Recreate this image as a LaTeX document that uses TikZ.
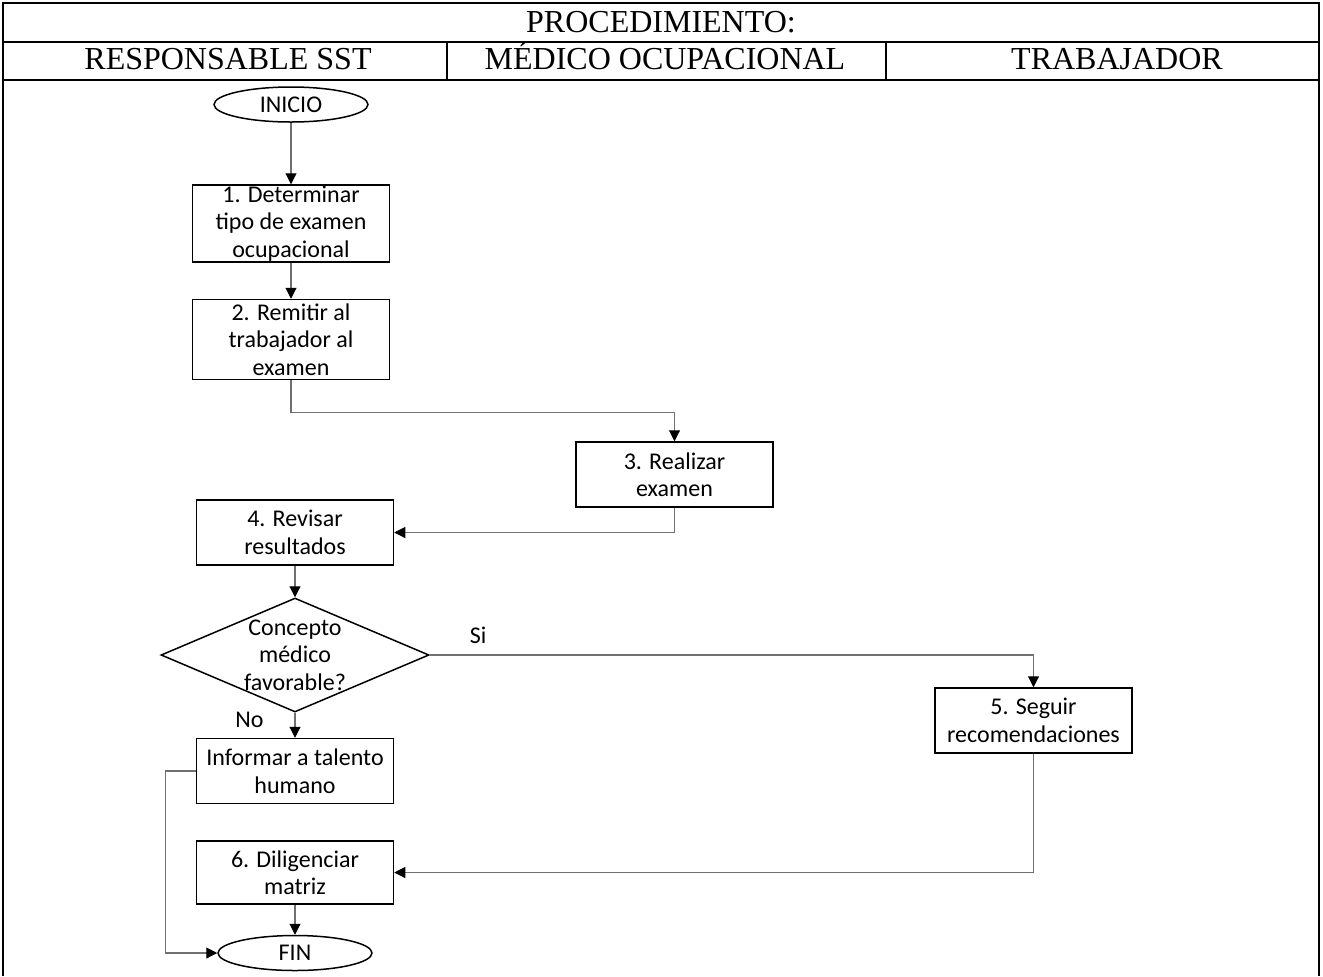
\documentclass[tikz,border=0pt]{standalone}
\usepackage{fontspec}
\setmainfont{Liberation Serif}
\newfontfamily\bodyfont{Carlito}
\usepackage{tikz}
\usetikzlibrary{arrows.meta,positioning,calc,shapes.geometric}
\usepackage{xcolor}
\definecolor{flowgray}{HTML}{707070}
\newcommand{\boxfont}{\bodyfont\fontsize{12}{13.75}\selectfont}

\begin{document}
\begin{tikzpicture}[x=0.5pt, y=-0.5pt,
  frame/.style={line width=1pt},
  hdr/.style={font=\fontsize{16}{19}\selectfont, anchor=base, inner sep=0pt},
  stepbox/.style={draw, line width=0.75pt, minimum width=98.5pt, minimum height=32.5pt, inner sep=0pt, align=center, font=\boxfont},
  terminal/.style={draw, ellipse, line width=0.75pt, minimum width=77pt, minimum height=17.5pt, inner sep=0pt, font=\boxfont},
  decision/.style={draw, diamond, line width=0.75pt, minimum width=134pt, minimum height=57pt, inner sep=0pt},
  flow/.style={draw=flowgray, line width=0.55pt, -{Triangle[length=5.5pt,width=5.5pt,color=black]}},
  lbl/.style={font=\boxfont, inner sep=0pt}]
  \useasboundingbox (0,0) rectangle (1323,976);

  % table frame and header
  \draw[frame] (3,976) -- (3,3) -- (1319,3) -- (1319,976);
  \draw[frame] (3,42) -- (1319,42);
  \draw[frame] (3,80) -- (1319,80);
  \draw[frame] (447,42) -- (447,80);
  \draw[frame] (886,42) -- (886,80);
  \node[hdr] (proc) at (661,32) {PROCEDIMIENTO:};
  \node[hdr] (rsst) at (228,69) {RESPONSABLE SST};
  \node[hdr] (medico) at (665,69) {MÉDICO OCUPACIONAL};
  \node[hdr] (trab) at (1117,69) {TRABAJADOR};

  % flow
  \node[terminal] (ini) at (291,104.5) {INICIO};
  \node[stepbox,minimum height=38.5pt] (det) at (291,223.5) {1. Determinar\\tipo de examen\\ocupacional};
  \node[stepbox,minimum height=40pt,below=18pt of det] (rem) {2. Remitir al\\trabajador al\\examen};
  \node[stepbox] (real) at (674.5,474.5) {3. Realizar\\examen};
  \node[stepbox] (rev) at (295,532.5) {4. Revisar\\resultados};
  \node[decision] (dec) at (295,655) {};
  \node[lbl,align=center] (decTxt) at (dec.center) {Concepto\\médico\\favorable?};
  \node[stepbox] (inf) at (295,771) {Informar a talento\\humano};
  \node[stepbox] (seg) at (1033.5,720.5) {5. Seguir\\recomendaciones};
  \node[stepbox,minimum height=31.5pt,below=18pt of inf] (dil) {6. Diligenciar\\matriz};
  \node[terminal] (fin) at (295,953) {FIN};

  \draw[flow] (ini) -- (det);
  \draw[flow] (det) -- (rem);
  \draw[flow] (rem.south) -- ++(0,32) -| (real.north);
  \draw[flow] (real.south) |- (rev.east);
  \draw[flow] (rev.south) -- (dec.north);
  \draw[flow] (dec.east) -| node[lbl,pos=0.04,above=5.5pt] (si) {Si} (seg.north);
  \draw[flow] (dec.south) -- node[lbl,pos=0.3,left=15.5pt] (no) {No} (inf.north);
  \draw[flow] (inf.west) -- ++(-30,0) |- (fin.west);
  \draw[flow] (seg.south) |- (dil.east);
  \draw[flow] (dil.south) -- (fin.north);
\end{tikzpicture}
\end{document}
